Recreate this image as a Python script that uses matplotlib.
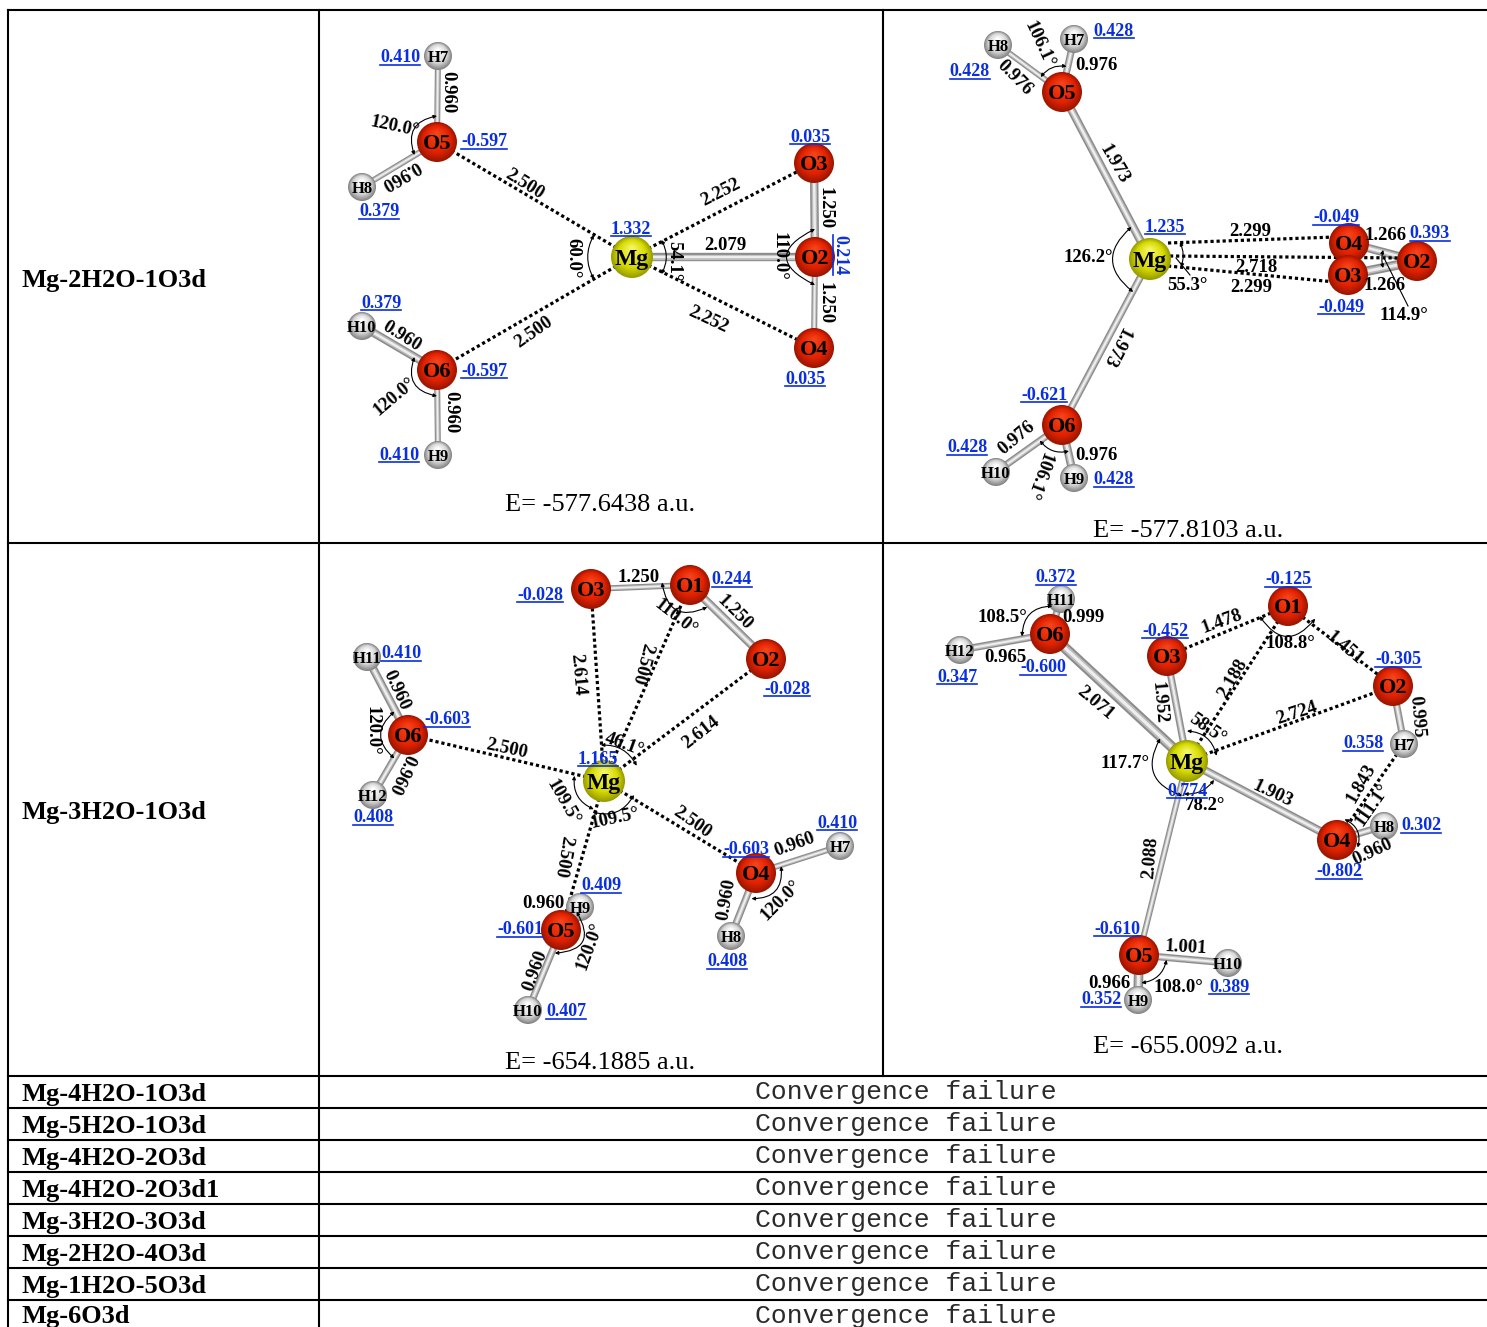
"""
Table of optimised Mg-H2O-O3 cluster geometries
Bond lengths, angles and charges are drawn from the lists below
"""

import numpy as np
import matplotlib
matplotlib.use('Agg')
import matplotlib.pyplot as plt
from matplotlib.patches import Circle, FancyArrowPatch

plt.rcParams['font.family'] = ['Liberation Serif', 'DejaVu Sans']

W, H = 1487, 1327
BLUE = '#0a2fe0'

# table
row_names_big = ['Mg-2H2O-1O3d', 'Mg-3H2O-1O3d']
row_names_big_y = [278, 811]
row_names = ['Mg-4H2O-1O3d', 'Mg-5H2O-1O3d', 'Mg-4H2O-2O3d', 'Mg-4H2O-2O3d1',
             'Mg-3H2O-3O3d', 'Mg-2H2O-4O3d', 'Mg-1H2O-5O3d', 'Mg-6O3d']
row_names_y = [1093, 1125, 1157, 1189, 1221, 1253, 1285, 1315]
failure_text = 'Convergence failure'
failure_y = [1091, 1123, 1155, 1187, 1219, 1251, 1283, 1315]
hlines_y = [10, 543, 1076, 1108, 1140, 1172, 1204, 1236, 1268, 1300]

# panel 1 : Mg-2H2O-1O3d, left
atoms_1 = {'H7': (438, 56), 'O5': (437, 142), 'H8': (362, 187), 'Mg': (632, 257),
           'O3': (814, 163), 'O2': (815, 257), 'O4': (814, 348), 'O6': (437, 370),
           'H10': (362, 326), 'H9': (438, 455)}
bonds_1 = [('O5', 'H7', 5), ('O5', 'H8', 5), ('O6', 'H10', 7), ('O6', 'H9', 5),
           ('O3', 'O2', 7), ('O2', 'O4', 5), ('Mg', 'O2', 7)]
dotted_1 = [('Mg', 'O5'), ('Mg', 'O6'), ('Mg', 'O3'), ('Mg', 'O4')]
arcs_1 = [(437, 142, 26, 90, 210), (437, 370, 26, 150, 270), (632, 257, 44, 150, 210),
          (632, 257, 34, -30, 30), (815, 257, 28, 90, 270)]
lengths_1 = [(450, 92, '0.960', -90), (395, 125, '120.0°', -12), (401, 176, '0.960', 210),
             (526, 183, '2.500', -32), (720, 191, '2.252', 27), (827, 208, '1.250', -90),
             (725, 243, '2.079', 0), (781, 256, '110.0°', -90), (827, 303, '1.250', -90),
             (676, 261, '54.1°', -90), (575, 258, '60.0°', -90), (709, 318, '2.252', -25),
             (533, 331, '2.500', 35), (403, 335, '0.960', -32), (453, 412, '0.960', -90),
             (393, 395, '120.0°', 40)]
charges_1 = [(400, 56, '0.410', 0), (484, 140, '-0.597', 0), (379, 210, '0.379', 0),
             (810, 135, '0.035', 0), (631, 227, '1.332', 0), (842, 255, '0.214', -90),
             (381, 301, '0.379', 0), (484, 369, '-0.597', 0), (399, 453, '0.410', 0),
             (805, 377, '0.035', 0)]
pointers_1 = []
energy_1 = (600, 503, 'E= -577.6438 a.u.')

# panel 2 : Mg-2H2O-1O3d, right
atoms_2 = {'O5': (1062, 92), 'H8': (998, 45), 'H7': (1074, 39), 'Mg': (1150, 259),
           'O4': (1349, 243), 'O3': (1348, 275), 'O2': (1417, 261), 'O6': (1062, 425),
           'H10': (996, 472), 'H9': (1074, 478)}
bonds_2 = [('O5', 'H8', 5), ('O5', 'H7', 6), ('O5', 'Mg', 7), ('Mg', 'O6', 6),
           ('O6', 'H10', 6), ('O6', 'H9', 7), ('O4', 'O2', 7), ('O3', 'O2', 8)]
dotted_2 = [((1168, 243), (1335, 237)), ((1170, 256), (1405, 258)), ((1168, 266), (1335, 282))]
arcs_2 = [(1062, 92, 26, 80, 145), (1062, 425, 27, 215, 285), (1150, 256, 33, -20, 25),
          (1150, 259, 37, 120, 243), (1417, 259, 35, 165, 195)]
lengths_2 = [(1041, 44, '106.1°', -65), (1096, 64, '0.976', 0), (1016, 76, '0.976', -45),
             (1116, 163, '1.973', -60), (1250, 230, '2.299', 0), (1256, 265, '2.718', 0),
             (1251, 285, '2.299', 0), (1088, 256, '126.2°', 0), (1187, 284, '55.3°', 0),
             (1386, 234, '1.266', 0), (1385, 284, '1.266', 0), (1404, 314, '114.9°', 0),
             (1118, 348, '1.973', 243), (1015, 436, '0.976', 40), (1096, 453, '0.976', 0),
             (1040, 477, '106.1°', 250)]
charges_2 = [(1114, 29, '0.428', 0), (970, 70, '0.428', 0), (1165, 225, '1.235', 0),
             (1336, 216, '-0.049', 0), (1430, 232, '0.393', 0), (1341, 305, '-0.049', 0),
             (1044, 393, '-0.621', 0), (967, 446, '0.428', 0), (1114, 478, '0.428', 0)]
pointers_2 = [((1384, 258), (1408, 306)), ((1176, 258), (1190, 275))]
energy_2 = (1188, 529, 'E= -577.8103 a.u.')

# panel 3 : Mg-3H2O-1O3d, left
atoms_3 = {'O3': (591, 589), 'O1': (690, 585), 'O2': (766, 659), 'H11': (367, 657),
           'O6': (408, 735), 'H12': (373, 795), 'Mg': (604, 781), 'O4': (756, 873),
           'H7': (840, 846), 'H8': (731, 936), 'H9': (580, 907), 'O5': (561, 930),
           'H10': (528, 1010)}
bonds_3 = [('O3', 'O1', 5), ('O1', 'O2', 7), ('O6', 'H11', 7), ('O6', 'H12', 6),
           ('O4', 'H7', 5), ('O4', 'H8', 6), ('O5', 'H9', 5), ('O5', 'H10', 6)]
dotted_3 = [('Mg', 'O3'), ('Mg', 'O1'), ('Mg', 'O2'), ('Mg', 'O6'), ('Mg', 'O4'), ('Mg', 'O5')]
arcs_3 = [(690, 585, 28, 175, 308), (408, 735, 27, 120, 240), (604, 781, 36, 25, 95),
          (604, 781, 30, 170, 250), (604, 781, 33, 250, 335), (756, 873, 26, -100, 15),
          (561, 930, 24, -105, 50)]
lengths_3 = [(639, 575, '1.250', 0), (677, 616, '110.0°', -38), (736, 611, '1.250', -45),
             (580, 674, '2.614', -85), (644, 664, '2.500', 255), (700, 731, '2.614', 38),
             (398, 689, '0.960', -65), (374, 731, '120.0°', -90), (403, 775, '0.960', 245),
             (507, 747, '2.500', -12), (625, 743, '46.1°', -20), (565, 801, '109.5°', -60),
             (614, 816, '109.5°', 12), (693, 821, '2.500', -35), (794, 843, '0.960', 20),
             (565, 857, '2.500', -100), (543, 902, '0.960', 0), (588, 945, '120.0°', 70),
             (533, 970, '0.960', 70), (725, 899, '0.960', 80), (779, 899, '120.0°', 45)]
charges_3 = [(540, 593, '-0.028', 0), (732, 578, '0.244', 0), (401, 652, '0.410', 0),
             (447, 718, '-0.603', 0), (787, 687, '-0.028', 0), (598, 757, '1.165', 0),
             (837, 821, '0.410', 0), (746, 848, '-0.603', 0), (601, 884, '0.409', 0),
             (520, 928, '-0.601', 0), (373, 816, '0.408', 0), (727, 960, '0.408', 0),
             (566, 1010, '0.407', 0)]
pointers_3 = []
energy_3 = (600, 1061, 'E= -654.1885 a.u.')

# panel 4 : Mg-3H2O-1O3d, right
atoms_4 = {'H11': (1061, 599), 'O6': (1050, 634), 'H12': (960, 650), 'O3': (1167, 656),
           'O1': (1288, 606), 'O2': (1393, 686), 'H7': (1404, 744), 'Mg': (1187, 761),
           'H8': (1384, 826), 'O4': (1337, 840), 'H9': (1138, 1000), 'O5': (1139, 955),
           'H10': (1228, 963)}
bonds_4 = [('O6', 'H11', 6), ('O6', 'H12', 6), ('O6', 'Mg', 9), ('O3', 'Mg', 6),
           ('Mg', 'O4', 7), ('Mg', 'O5', 5), ('O2', 'H7', 6), ('O4', 'H8', 6),
           ('O5', 'H10', 6), ('O5', 'H9', 8)]
dotted_4 = [('O3', 'O1'), ('O1', 'O2'), ('Mg', 'O1'), ('Mg', 'O2'), ('H7', 'O4')]
arcs_4 = [(1050, 634, 28, 85, 185), (1288, 606, 30, 200, 335), (1187, 761, 35, 140, 262),
          (1187, 761, 30, 10, 90), (1187, 761, 33, 265, 325), (1337, 840, 22, -20, 70),
          (1139, 955, 28, -85, -10)]
lengths_4 = [(1002, 615, '108.5°', 0), (1083, 615, '0.999', 0), (1005, 656, '0.965', 0),
             (1221, 620, '1.478', 20), (1290, 641, '108.8°', 0), (1346, 647, '1.451', -40),
             (1097, 702, '2.071', -40), (1161, 702, '1.952', -85), (1231, 678, '2.188', 60),
             (1296, 711, '2.724', 18), (1419, 716, '0.995', -85), (1208, 727, '58.5°', -35),
             (1125, 762, '117.7°', 0), (1273, 792, '1.903', -25), (1359, 782, '1.843', 60),
             (1371, 804, '111.1°', 55), (1205, 803, '78.2°', 0), (1149, 857, '2.088', 85),
             (1372, 850, '0.960', 25), (1186, 946, '1.001', -3), (1109, 981, '0.966', 0),
             (1178, 985, '108.0°', 0)]
charges_4 = [(1056, 576, '0.372', 0), (1288, 578, '-0.125', 0), (1165, 629, '-0.452', 0),
             (1398, 658, '-0.305', 0), (957, 675, '0.347', 0), (1043, 666, '-0.600', 0),
             (1363, 742, '0.358', 0), (1187, 789, '0.774', 0), (1421, 824, '0.302', 0),
             (1339, 870, '-0.802', 0), (1117, 927, '-0.610', 0), (1229, 985, '0.389', 0),
             (1101, 998, '0.352', 0)]
pointers_4 = []
energy_4 = (1188, 1045, 'E= -655.0092 a.u.')

# sphere colours: rim, body, highlight, radius in pixels, label size
SPHERES = {'O': ('#9c1600', '#e32200', '#f4421a', 20, 16),
           'H': ('#858585', '#d6d6d6', '#ffffff', 14, 12),
           'M': ('#9a9e00', '#d6da00', '#f4f460', 21, 17)}


def mezclar(c1, c2, t):
    a = np.array(matplotlib.colors.to_rgb(c1))
    b = np.array(matplotlib.colors.to_rgb(c2))
    return tuple(a + (b - a) * t)


def dibujar_atomo(ax, nombre, x, y):
    rim, body, high, r, size = SPHERES[nombre[0]]
    pasos = 18
    for i in range(pasos):
        t = i / (pasos - 1)
        color = mezclar(rim, body, t / 0.35) if t < 0.35 else mezclar(body, high, (t - 0.35) / 0.65)
        ax.add_patch(Circle((x, y - 0.42 * r * t), r * (1 - t * 0.9), color=color, lw=0, zorder=4))
    ax.text(x, y + 2, nombre, ha='center', va='center', fontsize=size, fontweight='bold', zorder=7)


def dibujar_enlace(ax, p, q, ancho):
    for factor, color in [(1.2, '#8c8c8c'), (0.75, '#bcbcbc'), (0.35, '#eeeeee')]:
        ax.plot([p[0], q[0]], [p[1], q[1]], color=color, lw=ancho * factor * 0.72,
                solid_capstyle='butt', zorder=2)


def dibujar_arco(ax, cx, cy, r, a0, a1):
    a, b = np.radians(a0), np.radians(a1)
    inicio = (cx + r * np.cos(a), cy - r * np.sin(a))
    fin = (cx + r * np.cos(b), cy - r * np.sin(b))
    rad = np.tan((b - a) / 4)
    ax.add_patch(FancyArrowPatch(inicio, fin, connectionstyle=f'arc3,rad={rad:.3f}',
                                 arrowstyle='<|-|>', mutation_scale=5, lw=0.8, color='black',
                                 shrinkA=0, shrinkB=0, zorder=5))


def dibujar_carga(ax, renderer, x, y, texto, rot):
    r = np.radians(rot)
    t = ax.text(x + np.sin(r) * 2, y + np.cos(r) * 2, texto, ha='center', va='center', fontsize=13,
                fontweight='bold', color=BLUE, rotation_mode='anchor', zorder=8)
    ancho = t.get_window_extent(renderer).width
    t.set_rotation(rot)
    dx, dy = np.cos(r) * ancho / 2, -np.sin(r) * ancho / 2
    ox, oy = np.sin(r) * 9, np.cos(r) * 9
    ax.plot([x - dx + ox, x + dx + ox], [y - dy + oy, y + dy + oy], color=BLUE, lw=1.2, zorder=8)


def dibujar_panel(ax, renderer, atoms, bonds, dotted, arcs, lengths, charges, pointers, energy):
    for a, b, ancho in bonds:
        dibujar_enlace(ax, atoms[a], atoms[b], ancho)
    for a, b in dotted:
        p, q = atoms.get(a, a), atoms.get(b, b)
        ax.plot([p[0], q[0]], [p[1], q[1]], color='black', lw=2.3,
                linestyle=(0, (1, 0.9)), zorder=3)
    for nombre, (x, y) in atoms.items():
        dibujar_atomo(ax, nombre, x, y)
    for arco in arcs:
        dibujar_arco(ax, *arco)
    for p, q in pointers:
        ax.plot([p[0], q[0]], [p[1], q[1]], color='black', lw=0.8, zorder=5)
    for x, y, texto, rot in lengths:
        r = np.radians(rot)
        ax.text(x + np.sin(r) * 2, y + np.cos(r) * 2, texto, ha='center', va='center', rotation=rot,
                rotation_mode='anchor', fontsize=13.5, fontweight='bold', zorder=8)
    for x, y, texto, rot in charges:
        dibujar_carga(ax, renderer, x, y, texto, rot)
    ax.text(energy[0], energy[1] + 2, energy[2], ha='center', va='center', fontsize=19, zorder=8)


fig = plt.figure(figsize=(W / 100, H / 100), dpi=100)
ax = fig.add_axes([0, 0, 1, 1])
ax.set_xlim(0, W)
ax.set_ylim(H, 0)
ax.axis('off')
renderer = fig.canvas.get_renderer()

# Table lines
for y in hlines_y:
    ax.plot([8, W], [y, y], color='black', lw=1.5, zorder=1)
ax.plot([8, 8], [10, H], color='black', lw=1.5, zorder=1)
ax.plot([319, 319], [10, H], color='black', lw=1.5, zorder=1)
ax.plot([883, 883], [10, 1076], color='black', lw=1.5, zorder=1)

# Row labels
for nombre, y in zip(row_names_big + row_names, row_names_big_y + row_names_y):
    ax.text(22, y + 2, nombre, ha='left', va='center', fontsize=19, fontweight='bold')
for y in failure_y:
    ax.text(906, y + 1, failure_text, ha='center', va='center', fontsize=19,
            family='Liberation Mono', color='#2a2a2a')

# Molecules
dibujar_panel(ax, renderer, atoms_1, bonds_1, dotted_1, arcs_1, lengths_1, charges_1, pointers_1, energy_1)
dibujar_panel(ax, renderer, atoms_2, bonds_2, dotted_2, arcs_2, lengths_2, charges_2, pointers_2, energy_2)
dibujar_panel(ax, renderer, atoms_3, bonds_3, dotted_3, arcs_3, lengths_3, charges_3, pointers_3, energy_3)
dibujar_panel(ax, renderer, atoms_4, bonds_4, dotted_4, arcs_4, lengths_4, charges_4, pointers_4, energy_4)

fig.savefig('out.png', dpi=100)
